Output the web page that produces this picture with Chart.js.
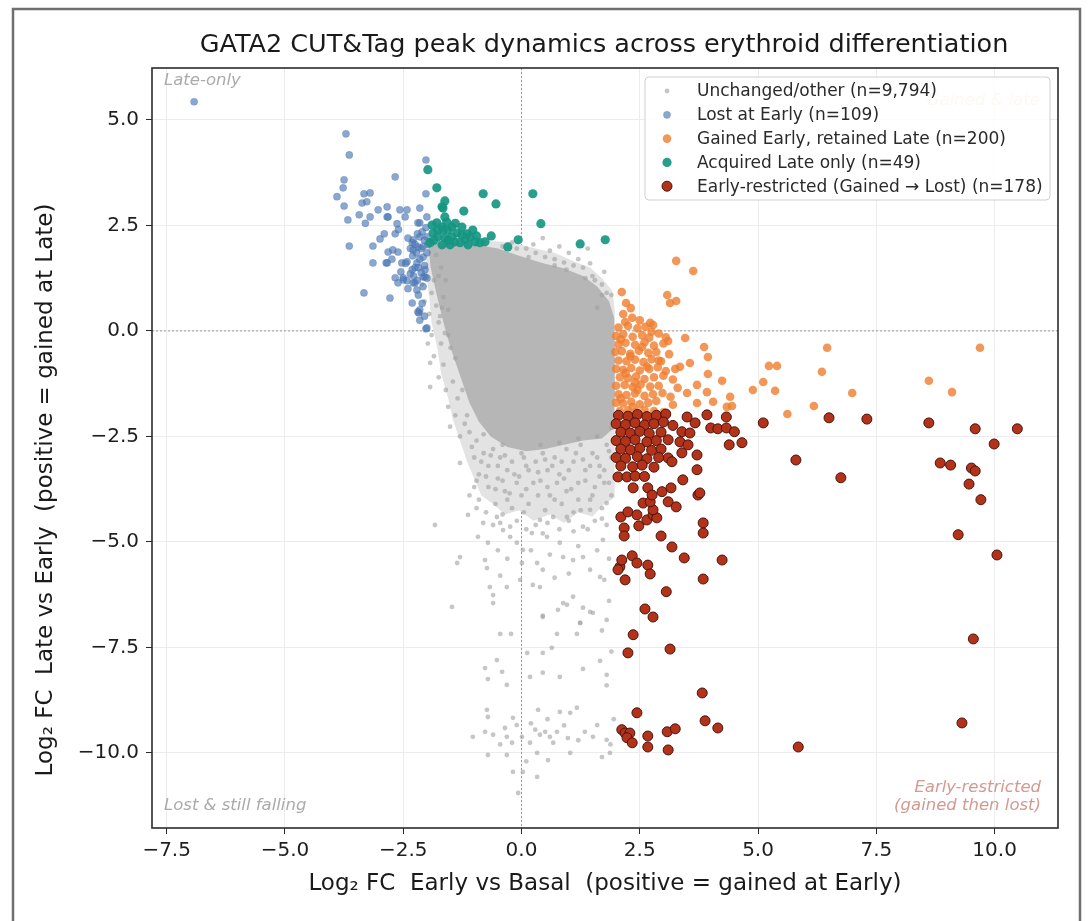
<!DOCTYPE html>
<html>
<head>
<meta charset="utf-8">
<script src="https://cdn.jsdelivr.net/npm/chart.js@4.4.0/dist/chart.umd.min.js"></script>
<style>
  body { margin: 0; background: #fff; }
  #wrap { width: 1089px; height: 921px; }
</style>
</head>
<body>
<div id="wrap"><canvas id="chart" width="1089" height="921"></canvas></div>
<script>
// values (log2 fold changes)
const seriesNames = [
  'Unchanged/other (n=9,794)',
  'Lost at Early (n=109)',
  'Gained Early, retained Late (n=200)',
  'Acquired Late only (n=49)',
  'Early-restricted (Gained \u2192 Lost) (n=178)'
];
const xTicks = [-7.5, -5.0, -2.5, 0.0, 2.5, 5.0, 7.5, 10.0];
const yTicks = [-10.0, -7.5, -5.0, -2.5, 0.0, 2.5, 5.0];

// outline of the speckled (medium density) part of the unchanged cloud
const cloudHalo = [
  [-2.0,2.05],[-2.02,1.4],[-1.95,0.8],[-1.9,0.2],[-1.78,-0.4],[-1.7,-1.0],[-1.55,-1.6],[-1.45,-2.1],
  [-1.3,-2.6],[-1.15,-3.1],[-1.0,-3.5],[-0.85,-3.9],[-0.6,-4.1],[-0.35,-4.35],[-0.05,-4.25],
  [0.25,-4.5],[0.6,-4.35],[0.9,-4.55],[1.2,-4.3],[1.5,-4.4],[1.75,-4.1],[1.97,-3.95],[1.97,0.5],
  [1.92,0.95],[1.7,1.25],[1.45,1.5],[1.1,1.65],[0.7,1.85],[0.3,1.95],[-0.2,2.1],[-1.0,2.15]
];
// outline of the solid part of the unchanged cloud
const cloudCore = [
  [-1.97,2.05],[-1.5,2.1],[-1.0,2.05],[-0.5,1.95],[-0.1,1.8],[0.4,1.62],[0.9,1.48],[1.3,1.3],
  [1.6,1.05],[1.85,0.7],[1.96,0.3],[1.97,-0.5],[1.97,-1.5],[1.95,-2.3],[1.7,-2.55],[1.3,-2.6],
  [0.9,-2.7],[0.5,-2.8],[0.1,-2.85],[-0.3,-2.75],[-0.65,-2.5],[-0.9,-2.15],[-1.1,-1.7],
  [-1.3,-1.05],[-1.5,-0.4],[-1.65,0.2],[-1.8,0.9],[-1.92,1.5]
];
// scattered unchanged peaks
const grayPts = [
  [0.1,1.95],[0.3,1.85],[0.5,1.75],[0.7,1.7],[0.9,1.62],[1.1,1.55],[0.25,2.05],[0.6,1.9],[1.3,1.5],
  [1.5,1.3],[1.7,1.1],[1.8,0.9],[1.45,1.6],[1.0,1.85],[0.8,2.0],[1.6,0.55],[1.9,0.85],[-0.2,2.1],
  [-0.4,2.0],[0.45,2.2],[1.2,1.7],[1.75,1.4],[1.4,1.95],[1.55,1.2],[0.95,1.45],[0.15,1.75],
  [0.7,1.55],[1.35,1.25],[1.7,0.85],[-0.1,1.95],
  [-1.85,1.2],[-1.9,0.9],[-1.8,0.6],[-1.95,0.4],[-1.75,0.2],[-1.9,-0.1],[-1.7,-0.3],[-1.85,-0.6],
  [-1.65,-0.8],[-1.93,-0.76],[-1.93,-1.33],[-1.75,-1.1],[-1.6,-1.4],[-1.55,-1.8],[-1.51,-2.27],
  [-1.4,-2.0],[-1.3,-2.5],[-1.65,0.8],[-1.7,1.5],[-1.6,1.2],[-1.55,0.5],[-1.5,-0.4],[-1.45,-1.2],
  [-1.35,-1.6],[-1.2,-2.2],[-2.05,0.7],[-2.1,1.1],[-1.98,-0.3],[-1.62,-0.05],[-1.72,0.35],
  [-1.8,1.8],[-1.75,1.3],[-1.68,0.55],[-1.55,-0.1],[-1.4,-0.65],[-1.25,-1.4],[-1.15,-2.0],
  [-1.1,-2.4],[-0.95,-2.6],[-0.8,-2.9],[-1.0,-3.0],[-0.7,-3.2],[-0.9,-3.4],[-0.6,-2.8],[-0.45,-3.0],
  [-0.3,-3.3],[-0.5,-3.5],[-0.2,-3.1],[-0.1,-3.6],[0.05,-3.0],[0.15,-3.3],[0.3,-3.1],[0.25,-3.6],
  [0.45,-2.9],[0.55,-3.3],[0.7,-3.0],[0.8,-3.4],[0.95,-2.8],[1.1,-3.1],[1.25,-2.7],[1.35,-3.3],
  [1.5,-2.9],[1.65,-3.2],[1.8,-2.7],[1.9,-3.0],[1.75,-3.6],[1.55,-3.7],[1.2,-3.6],[0.95,-3.8],
  [0.6,-3.9],[0.35,-3.9],[0.0,-3.9],[-0.35,-3.8],[-0.7,-3.7],[-1.0,-3.7],[-1.3,-3.13],[-0.8,-2.45],
  [-0.4,-2.7],[0.0,-2.9],[0.4,-2.7],[0.8,-2.65],[1.2,-2.55],[1.6,-2.5],[1.9,-2.3],[-0.55,-4.1],
  [-0.2,-4.2],[0.15,-4.1],[0.5,-4.25],[0.85,-4.1],[1.1,-4.3],[1.45,-4.0],[1.7,-4.2],[1.9,-3.9],
  [-1.05,-2.75],[-0.85,-3.1],[-0.65,-2.95],[-0.5,-3.2],[-0.35,-2.95],[-0.15,-3.4],[0.1,-3.2],
  [0.35,-3.35],[0.5,-3.05],[0.65,-3.2],[0.85,-3.1],[1.0,-3.3],[1.15,-2.9],[1.3,-3.05],[1.45,-3.2],
  [1.6,-3.0],[1.75,-3.3],[1.85,-2.85],[-0.95,-3.55],[-0.75,-3.45],[-0.55,-3.75],[-0.4,-3.55],
  [-0.25,-3.85],[-0.05,-3.45],[0.1,-3.75],[0.4,-3.55],[0.55,-3.7],[0.75,-3.6],[0.9,-3.5],
  [1.05,-3.75],[1.35,-3.55],[1.5,-3.9],[1.65,-3.45],[1.85,-3.6],[-0.75,-4.3],[-0.6,-4.6],
  [-0.4,-4.35],[-0.1,-4.5],[0.05,-4.3],[0.3,-4.6],[0.55,-4.55],[0.8,-4.7],[1.0,-4.5],[1.25,-4.25],
  [1.55,-4.5],[1.8,-4.6],[-0.3,-4.0],[0.7,-4.0],[1.2,-4.0],[-0.5,-5.2],[-0.3,-5.4],[0.2,-5.2],
  [0.6,-5.3],[1.2,-5.1],[1.6,-5.2],[-0.45,-5.8],[0.7,-5.85],[1.0,-5.75],[1.85,-5.4],
  [-1.1,-3.9],[-0.95,-4.2],[-0.45,-4.55],[0.1,-4.7],[0.45,-4.8],[1.1,-4.75],[1.4,-4.7],[1.7,-4.45],
  [-0.9,-4.0],[-1.13,-4.36],[-0.81,-4.55],[-0.92,-4.88],[-0.71,-5.02],[-1.3,-5.36],[-1.36,-5.5],
  [-0.77,-5.43],[-0.73,-5.62],[-0.67,-6.07],[-0.6,-6.26],[-0.31,-6.07],[-0.24,-4.88],[-0.24,-4.64],
  [-0.1,-5.02],[0.01,-5.5],[0.03,-5.19],[-0.03,-5.9],[0.24,-6.02],[0.39,-6.07],[0.33,-5.5],
  [0.45,-5.66],[0.22,-4.79],[0.54,-4.88],[0.81,-5.02],[0.88,-5.36],[1.09,-5.43],[1.3,-5.36],
  [1.45,-5.66],[1.66,-5.83],[1.09,-6.3],[0.88,-6.45],[1.3,-6.56],[1.51,-6.68],[1.24,-6.92],
  [0.45,-6.78],[0.96,-4.41],[1.3,-4.64],[1.45,-4.24],[1.72,-4.95],[1.8,-4.08],[-0.52,-4.41],
  [-0.39,-4.72],[0.67,-4.41],[0.39,-4.48],[-1.83,-4.6],[-1.47,-6.54],
  [-0.6,-6.45],[-0.45,-7.18],[-0.22,-7.18],[0.45,-6.75],[0.77,-6.61],[0.96,-6.49],[0.75,-7.18],
  [1.17,-7.18],[1.24,-6.92],[1.45,-6.66],[1.8,-6.85],[0.12,-7.63],[0.64,-7.51],[-0.52,-7.8],
  [-0.41,-8.08],[-0.77,-7.99],[-0.71,-8.25],[-0.31,-8.39],[0.18,-8.2],[0.45,-8.1],[0.81,-8.2],
  [1.3,-8.01],[1.66,-7.82],[1.8,-8.15],[-0.73,-8.98],[-0.71,-9.15],[0.35,-8.98],[0.81,-9.03],
  [1.03,-9.05],[1.17,-8.93],[-0.18,-9.17],[-0.1,-9.34],[-0.35,-9.41],[-0.77,-9.5],[-1.03,-9.62],
  [-0.6,-9.57],[-0.31,-9.62],[-0.2,-9.76],[0.01,-9.62],[0.29,-9.45],[0.39,-9.57],[0.5,-9.5],
  [0.6,-9.62],[0.75,-9.5],[0.67,-9.76],[0.98,-9.65],[1.34,-9.5],[1.51,-9.62],[1.6,-9.34],
  [1.8,-9.69],[1.87,-10.0],[-0.71,-10.05],[-0.31,-10.05],[0.18,-9.76],[0.33,-10.0],[0.56,-10.17],
  [1.03,-10.0],[-0.18,-10.45],[0.03,-10.45],[0.33,-10.57],[-0.07,-10.95],[0.45,-7.63],
  [1.75,-5.9],[1.85,-6.4],[1.7,-7.1],[1.9,-7.6],[1.8,-8.4],[1.95,-9.2],[1.88,-9.8],[1.7,-10.1],
  [0.2,-9.3],[0.55,-9.2],[0.9,-9.35],[1.2,-9.7],[-0.45,-9.8],[0.1,-10.2]
];
const lostEarly = [
  [-6.92,5.43],[-3.71,4.67],[-3.64,4.17],[-3.75,3.58],[-3.77,3.39],[-3.9,3.18],[-3.75,2.96],
  [-3.67,2.63],[-3.64,2.01],[-3.43,2.75],[-3.33,3.25],[-3.2,3.27],[-3.37,3.03],[-3.27,3.06],
  [-3.2,2.7],[-3.03,2.87],[-2.84,2.94],[-2.82,2.7],[-2.67,3.65],[-2.63,2.54],[-2.57,2.87],
  [-2.42,2.87],[-2.46,2.7],[-2.15,2.91],[-2.0,2.7],[-2.02,4.05],[-2.02,3.25],[-2.67,2.3],
  [-2.99,2.18],[-3.14,2.01],[-3.14,1.61],[-2.86,1.61],[-2.82,1.87],[-2.72,1.92],[-2.61,1.87],
  [-2.74,1.7],[-2.53,1.61],[-2.42,1.64],[-2.67,1.26],[-2.61,1.14],[-2.5,1.26],[-2.42,1.19],
  [-3.33,0.9],[-2.78,0.78],[-2.31,0.66],[-2.17,0.43],[-2.15,0.5],[-2.02,0.05],[-2.25,1.14],
  [-2.21,0.97],[-2.04,1.28],[-2.19,2.56],[-2.31,2.09],[-2.15,2.56],[-2.84,2.7],[-2.29,2.16],
  [-2.19,1.99],[-2.15,2.23],[-2.08,1.75],[-2.21,1.61],[-2.29,1.92],[-2.31,1.45],[-2.08,1.28],
  [-2.29,1.14],[-2.84,1.61],[-2.5,1.21],[-2.19,0.45],[-2.0,0.07],[-2.04,1.45],[-2.0,2.23],
  [-2.1,2.35],[-2.05,2.15],[-2.25,2.05],[-2.12,1.95],[-2.0,1.85],[-2.3,1.78],[-2.15,1.7],
  [-2.05,1.55],[-2.25,1.5],[-2.12,1.38],[-2.0,1.25],[-2.2,1.2],[-2.35,1.35],[-2.4,2.2],
  [-2.2,2.3],[-1.98,2.05],[-2.08,1.05],[-2.18,0.85],[-2.1,0.65],[-2.05,0.35],[-2.15,0.25],
  [-2.4,1.0],[-2.55,1.4],[-2.45,1.6],[-2.6,2.4],[-2.9,2.3],[-3.3,2.55],[-2.02,2.45],[-2.22,1.85],
  [-2.35,1.95],[-2.08,2.0],[-2.18,1.5],[-2.28,1.3]
];
const gainedRetained = [
  [3.27,1.66],[3.63,1.42],[2.12,0.92],[2.21,0.66],[2.31,0.54],[2.34,0.31],[2.19,0.21],[2.72,0.19],
  [2.78,0.14],[3.08,0.85],[3.14,0.66],[3.27,0.71],[3.46,-0.17],[3.1,-0.24],[3.86,-0.38],[3.94,-0.62],
  [3.56,-0.76],[3.35,-0.85],[3.94,-1.02],[4.24,-1.18],[3.71,-1.28],[3.5,-1.47],[3.92,-1.45],
  [4.05,-1.68],[4.41,-1.56],[4.34,-1.8],[4.45,-1.78],[3.71,-1.71],[4.89,-1.4],[5.11,-1.21],
  [5.36,-1.42],[5.23,-0.83],[5.4,-0.83],[5.62,-1.97],[6.18,-1.78],[6.35,-0.97],[6.46,-0.4],
  [6.99,-1.47],[8.61,-1.18],[9.1,-1.45],[9.69,-0.4],
  [2.05,0.08],[2.25,0.12],[2.45,0.06],[2.62,0.1],[2.75,-0.02],
  [2.0,-0.12],[2.15,-0.08],[2.35,-0.14],[2.55,-0.1],[2.7,-0.16],[2.9,-0.06],
  [2.05,-0.32],[2.2,-0.28],[2.4,-0.33],[2.6,-0.27],[2.8,-0.35],[3.0,-0.3],
  [1.98,-0.5],[2.12,-0.48],[2.3,-0.54],[2.48,-0.47],[2.68,-0.52],[2.85,-0.5],[3.12,-0.55],
  [2.05,-0.7],[2.22,-0.72],[2.4,-0.68],[2.58,-0.74],[2.75,-0.67],[2.95,-0.72],
  [2.0,-0.9],[2.15,-0.92],[2.32,-0.88],[2.5,-0.94],[2.7,-0.9],[2.88,-0.86],[3.05,-0.95],
  [2.08,-1.1],[2.25,-1.12],[2.42,-1.08],[2.6,-1.14],[2.8,-1.1],[3.0,-1.06],[3.2,-1.15],
  [2.0,-1.3],[2.18,-1.28],[2.35,-1.33],[2.52,-1.27],[2.72,-1.32],[2.9,-1.3],
  [2.05,-1.5],[2.22,-1.52],[2.4,-1.48],[2.6,-1.54],[2.78,-1.5],[2.98,-1.47],[3.15,-1.56],
  [2.0,-1.7],[2.15,-1.72],[2.32,-1.68],[2.5,-1.74],[2.68,-1.7],[2.85,-1.66],
  [2.08,-1.9],[2.25,-1.88],[2.42,-1.92],[2.6,-1.87],[2.8,-1.9],[3.0,-1.93],
  [2.1,-0.2],[2.3,-0.6],[2.2,-1.0],[2.45,-1.4],[2.1,-1.6],[2.35,-1.8],[2.55,-0.38],[2.65,-0.85],
  [2.4,-1.22],[2.9,-0.7],[3.25,-0.9],[3.3,-1.35],[3.2,-1.75],[3.05,-0.15],[2.5,0.25],[2.15,0.4]
];
const acquiredLate = [
  [-1.98,3.82],[-1.79,3.39],[-1.62,3.08],[-1.68,2.94],[-1.22,2.84],[-0.81,3.25],[-0.54,3.01],
  [0.24,3.25],[0.41,2.54],[-0.07,2.16],[-0.29,1.99],[1.24,2.06],[1.77,2.16],[-0.64,2.25],
  [-0.77,2.11],[-1.89,2.51],[-1.79,2.56],[-1.68,2.46],[-1.58,2.58],[-1.55,2.39],[-1.87,2.32],
  [-1.77,2.23],[-1.62,2.2],[-1.47,2.23],[-1.41,2.11],[-1.26,2.46],[-1.3,2.09],[-1.19,2.16],
  [-1.09,2.23],[-1.03,2.39],[-1.13,2.04],[-0.98,2.11],[-0.88,2.09],[-1.47,2.46],[-1.36,2.32],
  [-1.66,2.39],[-1.77,2.39],[-1.93,2.09],[-1.51,2.04],[-1.68,2.04],[-1.26,2.27],[-1.62,2.7],
  [-1.66,2.91],[-1.4,2.55],[-1.15,2.3],[-0.95,2.25],[-1.85,2.15],[-1.55,2.15]
];
const earlyRestricted = [
  [5.11,-2.18],[6.5,-2.06],[7.3,-2.09],[8.61,-2.18],[9.59,-2.32],[10.48,-2.32],[9.99,-2.68],
  [5.8,-3.06],[8.85,-3.13],[9.07,-3.18],[9.51,-3.25],[9.59,-3.32],[9.46,-3.63],[9.71,-4.0],
  [6.75,-3.48],[9.23,-4.83],[10.05,-5.31],[9.55,-7.3],[9.31,-9.29],[5.85,-9.86],[3.82,-8.58],
  [3.88,-9.24],[4.15,-9.41],[2.44,-9.05],[2.12,-9.45],[2.19,-9.53],[2.29,-9.53],[2.23,-9.64],
  [2.34,-9.76],[2.67,-9.6],[2.67,-9.86],[3.08,-9.5],[3.25,-9.43],[3.1,-9.93],[2.25,-7.63],
  [2.36,-7.2],[3.14,-7.54],[2.61,-6.59],[2.78,-6.78],[3.06,-6.18],[2.08,-5.59],[2.19,-5.9],
  [2.12,-5.43],[2.34,-5.33],[2.44,-5.5],[2.67,-5.55],[2.72,-5.76],[2.04,-5.66],[3.44,-5.38],
  [4.24,-5.43],[3.84,-5.88],[3.18,-5.12],[2.95,-4.86],[2.17,-4.67],[2.17,-4.86],[2.1,-4.41],
  [2.25,-4.29],[2.44,-4.36],[2.48,-4.62],[2.65,-4.48],[2.78,-4.36],[2.86,-4.43],[2.78,-4.24],
  [2.57,-4.08],[2.72,-4.05],[3.1,-4.05],[3.27,-4.17],[2.97,-3.81],[3.16,-3.72],[2.36,-3.72],
  [2.67,-3.72],[2.76,-3.89],[3.41,-3.53],[3.73,-3.89],[3.77,-3.84],[3.71,-3.29],[3.71,-2.94],
  [3.84,-4.55],[3.84,-4.79],[2.04,-3.46],[2.23,-3.46],[2.4,-3.44],
  [3.5,-2.04],[3.92,-1.99],[4.33,-2.04],[4.0,-2.3],[4.15,-2.32],[4.33,-2.3],[4.5,-2.39],
  [4.39,-2.7],[4.66,-2.65],[3.39,-2.39],[3.56,-2.42],[3.67,-2.18],[3.35,-2.63],[3.52,-2.7],
  [3.1,-2.58],[3.1,-3.01],[3.18,-3.1],[3.39,-2.89],
  [2.05,-2.0],[2.25,-2.02],[2.45,-1.98],[2.65,-2.03],[2.85,-2.0],[3.05,-1.97],
  [2.0,-2.2],[2.2,-2.22],[2.4,-2.18],[2.6,-2.23],[2.8,-2.2],[3.0,-2.16],[3.2,-2.24],
  [2.1,-2.4],[2.3,-2.42],[2.5,-2.38],[2.7,-2.43],[2.95,-2.4],
  [2.0,-2.6],[2.2,-2.62],[2.4,-2.58],[2.65,-2.63],[2.85,-2.6],
  [2.1,-2.8],[2.3,-2.82],[2.5,-2.78],[2.75,-2.83],[2.95,-2.8],
  [2.0,-3.0],[2.2,-3.02],[2.45,-2.98],[2.65,-3.03],[2.9,-3.0],
  [2.1,-3.2],[2.35,-3.22],[2.55,-3.18],[2.8,-3.23],[2.6,-3.45]
];

const toXY = arr => arr.map(p => ({ x: p[0], y: p[1] }));
const fmt = v => v.toFixed(1).replace('-', '\u2212');
const FONT = "'DejaVu Sans', sans-serif";

function fillOutline(chart, outline, color) {
  const c = chart.ctx, xs = chart.scales.x, ys = chart.scales.y;
  c.fillStyle = color;
  c.beginPath();
  outline.forEach((p, i) => {
    const px = xs.getPixelForValue(p[0]), py = ys.getPixelForValue(p[1]);
    if (i === 0) c.moveTo(px, py); else c.lineTo(px, py);
  });
  c.closePath();
  c.fill();
}

const decor = {
  id: 'decor',
  beforeDraw(chart) {
    const c = chart.ctx;
    // outer frame of the figure
    c.save();
    c.strokeStyle = '#6f6f6f';
    c.lineWidth = 2.5;
    c.strokeRect(13, 9, 1067, 940);
    c.restore();
  },
  beforeDatasetsDraw(chart) {
    const c = chart.ctx, xs = chart.scales.x, ys = chart.scales.y, a = chart.chartArea;
    c.save();
    // zero lines
    c.strokeStyle = '#9a9a9a';
    c.lineWidth = 1;
    c.setLineDash([2, 2]);
    c.beginPath();
    c.moveTo(xs.getPixelForValue(0), a.top); c.lineTo(xs.getPixelForValue(0), a.bottom);
    c.moveTo(a.left, ys.getPixelForValue(0)); c.lineTo(a.right, ys.getPixelForValue(0));
    c.stroke();
    c.setLineDash([]);
    // density of the unchanged cloud
    fillOutline(chart, cloudHalo, '#e3e3e3');
    fillOutline(chart, cloudCore, '#b6b6b6');
    // corner notes
    c.font = 'italic 16.5px ' + FONT;
    c.fillStyle = '#ababab';
    c.textBaseline = 'middle';
    c.textAlign = 'left';
    c.fillText('Late-only', a.left + 12, a.top + 13);
    c.fillText('Lost & still falling', a.left + 12, a.bottom - 22);
    c.textAlign = 'right';
    c.fillStyle = '#ecccb4';
    c.fillText('Gained & late', a.right - 18, a.top + 33);
    c.fillStyle = '#d49a90';
    c.fillText('Early-restricted', a.right - 17, a.bottom - 40);
    c.fillText('(gained then lost)', a.right - 17, a.bottom - 22);
    c.restore();
  },
  afterDraw(chart) {
    const c = chart.ctx, a = chart.chartArea;
    c.save();
    // axes frame
    c.strokeStyle = '#2b2b2b';
    c.lineWidth = 1.6;
    c.strokeRect(a.left, a.top, a.right - a.left, a.bottom - a.top);
    // title and axis titles
    c.fillStyle = '#1a1a1a';
    c.textAlign = 'center';
    c.textBaseline = 'middle';
    c.font = '25.5px ' + FONT;
    c.fillText('GATA2 CUT&Tag peak dynamics across erythroid differentiation', 604, 45);
    c.font = '23px ' + FONT;
    c.fillText('Log\u2082 FC  Early vs Basal  (positive = gained at Early)', 605, 884);
    c.save();
    c.translate(46, 490);
    c.rotate(-Math.PI / 2);
    c.fillText('Log\u2082 FC  Late vs Early  (positive = gained at Late)', 0, 0);
    c.restore();
    // legend box
    const lx = 645, ly = 77, lw = 405, lh = 123;
    c.beginPath();
    c.roundRect(lx, ly, lw, lh, 4);
    c.fillStyle = 'rgba(255,255,255,0.85)';
    c.fill();
    c.strokeStyle = '#cfcfcf';
    c.lineWidth = 1;
    c.stroke();
    c.font = '17px ' + FONT;
    c.textAlign = 'left';
    chart.data.datasets.forEach((ds, i) => {
      const y = ly + 14 + i * 23.8;
      c.beginPath();
      c.arc(lx + 22, y, ds.pointRadius, 0, Math.PI * 2);
      c.fillStyle = ds.backgroundColor;
      c.fill();
      if (ds.borderWidth) {
        c.strokeStyle = ds.borderColor;
        c.lineWidth = ds.borderWidth;
        c.stroke();
      }
      c.fillStyle = '#2a2a2a';
      c.fillText(ds.label, lx + 52, y + 1);
    });
    c.restore();
  }
};

new Chart(document.getElementById('chart'), {
  type: 'scatter',
  data: {
    datasets: [
      { label: seriesNames[0], data: toXY(grayPts), pointRadius: 2.4, backgroundColor: 'rgba(160,160,160,0.6)', borderWidth: 0, order: 5 },
      { label: seriesNames[1], data: toXY(lostEarly), pointRadius: 3.6, backgroundColor: 'rgba(78,122,182,0.66)', borderColor: 'rgba(60,100,160,0.45)', borderWidth: 0.5, order: 4 },
      { label: seriesNames[2], data: toXY(gainedRetained), pointRadius: 4.3, backgroundColor: 'rgba(239,125,45,0.8)', borderWidth: 0, order: 3 },
      { label: seriesNames[3], data: toXY(acquiredLate), pointRadius: 4.6, backgroundColor: 'rgba(22,150,130,0.92)', borderWidth: 0, order: 2 },
      { label: seriesNames[4], data: toXY(earlyRestricted), pointRadius: 5, backgroundColor: '#b3321a', borderColor: '#4a140a', borderWidth: 1, order: 1 }
    ]
  },
  options: {
    responsive: false,
    animation: false,
    layout: { padding: { top: 68, right: 31, left: 0, bottom: 0 } },
    plugins: { legend: { display: false }, tooltip: { enabled: false }, title: { display: false } },
    scales: {
      x: {
        type: 'linear', min: -7.81, max: 11.34,
        afterFit: s => { s.height = 93; },
        afterBuildTicks: s => { s.ticks = xTicks.map(v => ({ value: v })); },
        grid: { color: '#ececec', tickColor: '#2b2b2b', tickLength: 6, lineWidth: 1 },
        border: { display: false },
        ticks: { callback: v => fmt(v), font: { family: FONT, size: 20 }, color: '#1e1e1e', padding: 5, maxRotation: 0 }
      },
      y: {
        type: 'linear', min: -11.78, max: 6.23,
        afterFit: s => { s.width = 152; },
        afterBuildTicks: s => { s.ticks = yTicks.map(v => ({ value: v })); },
        grid: { color: '#ececec', tickColor: '#2b2b2b', tickLength: 6, lineWidth: 1 },
        border: { display: false },
        ticks: { callback: v => fmt(v), font: { family: FONT, size: 20 }, color: '#1e1e1e', padding: 7 }
      }
    }
  },
  plugins: [decor]
});
</script>
</body>
</html>
